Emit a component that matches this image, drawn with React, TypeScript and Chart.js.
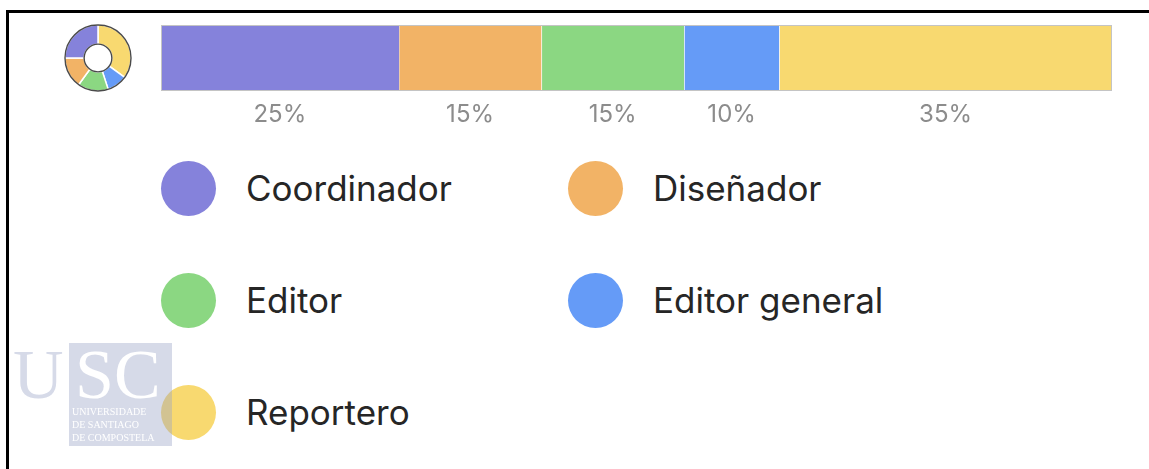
import React, { useEffect, useRef } from "react";
import { Chart, registerables } from "chart.js";

Chart.register(...registerables);

const categories = ["Coordinador", "Diseñador", "Editor", "Editor general", "Reportero"];
const shares = [25, 15, 15, 10, 35];
const shareLabels = ["25%", "15%", "15%", "10%", "35%"];
const colors = ["#8582db", "#f2b366", "#8bd782", "#659bf7", "#f8d970"];

const FONT = "Inter, 'Noto Sans', sans-serif";

const outlinePlugin = {
  id: "barOutline",
  afterDatasetsDraw(chart: any) {
    const { ctx, chartArea } = chart;
    ctx.save();
    ctx.strokeStyle = "#c4c4c4";
    ctx.lineWidth = 1;
    ctx.strokeRect(
      chartArea.left + 0.5,
      chartArea.top + 0.5,
      chartArea.right - chartArea.left - 1,
      chartArea.bottom - chartArea.top - 1
    );
    ctx.restore();
  },
};

const shareLabelPlugin = {
  id: "shareLabels",
  afterDraw(chart: any) {
    const { ctx, chartArea } = chart;
    const x = chart.scales.x;
    ctx.save();
    ctx.font = `24px ${FONT}`;
    ctx.fillStyle = "#8c8c8c";
    ctx.textAlign = "center";
    ctx.textBaseline = "middle";
    let start = 0;
    shares.forEach((v, i) => {
      const mid = start + v / 2;
      ctx.fillText(shareLabels[i], x.getPixelForValue(mid), chartArea.bottom + 24);
      start += v;
    });
    ctx.restore();
  },
};

const ringPlugin = {
  id: "ringOutline",
  afterDatasetsDraw(chart: any) {
    const meta = chart.getDatasetMeta(0);
    const arc = meta.data[0];
    if (!arc) return;
    const { x, y, outerRadius, innerRadius } = arc.getProps(["x", "y", "outerRadius", "innerRadius"], true);
    const { ctx } = chart;
    ctx.save();
    ctx.strokeStyle = "#4a4a4a";
    ctx.lineWidth = 1.4;
    ctx.beginPath();
    ctx.arc(x, y, outerRadius, 0, Math.PI * 2);
    ctx.stroke();
    ctx.beginPath();
    ctx.arc(x, y, innerRadius, 0, Math.PI * 2);
    ctx.stroke();
    ctx.restore();
  },
};

export default function App() {
  const barRef = useRef<HTMLCanvasElement>(null);
  const donutRef = useRef<HTMLCanvasElement>(null);

  useEffect(() => {
    const bar = new Chart(barRef.current as HTMLCanvasElement, {
      type: "bar",
      data: {
        labels: ["Roles"],
        datasets: categories.map((c, i) => ({
          label: c,
          data: [shares[i]],
          backgroundColor: colors[i],
          borderColor: "rgba(255,255,255,0.85)",
          borderWidth: { left: i > 0 ? 1 : 0, right: 0, top: 0, bottom: 0 },
          borderSkipped: false,
          barPercentage: 1,
          categoryPercentage: 1,
        })),
      },
      options: {
        indexAxis: "y",
        animation: false,
        responsive: false,
        layout: { padding: { top: 0, left: 0, right: 0, bottom: 40 } },
        scales: {
          x: { stacked: true, min: 0, max: 100, display: false },
          y: { stacked: true, display: false },
        },
        plugins: { legend: { display: false }, tooltip: { enabled: false } },
      } as any,
      plugins: [outlinePlugin, shareLabelPlugin],
    });

    const donut = new Chart(donutRef.current as HTMLCanvasElement, {
      type: "doughnut",
      data: {
        labels: [...categories].reverse(),
        datasets: [
          {
            data: [...shares].reverse(),
            backgroundColor: [...colors].reverse(),
            borderColor: "#ffffff",
            borderWidth: 1.5,
          },
        ],
      },
      options: {
        animation: false,
        responsive: false,
        radius: 33,
        cutout: 16.5,
        layout: { padding: 0 },
        plugins: { legend: { display: false }, tooltip: { enabled: false } },
      } as any,
      plugins: [ringPlugin],
    });

    return () => {
      bar.destroy();
      donut.destroy();
    };
  }, []);

  const logoFill = "rgb(153,163,198)";

  return (
    <div
      style={{
        position: "absolute",
        left: 0,
        top: 0,
        width: 1149,
        height: 469,
        overflow: "hidden",
        background: "#ffffff",
        fontFamily: FONT,
      }}
    >
      <div
        style={{
          position: "absolute",
          left: 6,
          top: 10,
          right: -10,
          bottom: -10,
          borderLeft: "3px solid #000",
          borderTop: "3px solid #000",
        }}
      />
      <canvas
        ref={donutRef}
        width={80}
        height={80}
        style={{ position: "absolute", left: 58, top: 18, width: 80, height: 80, display: "block" }}
      />
      <canvas
        ref={barRef}
        width={951}
        height={106}
        style={{ position: "absolute", left: 161, top: 25, width: 951, height: 106, display: "block" }}
      />
      {categories.map((c, i) => {
        const col = i % 2;
        const row = Math.floor(i / 2);
        return (
          <div
            key={c}
            style={{
              position: "absolute",
              left: col ? 568 : 161,
              top: 160 + row * 112,
              height: 56,
              display: "flex",
              alignItems: "center",
              whiteSpace: "nowrap",
            }}
          >
            <div
              style={{
                width: 55,
                height: 55,
                borderRadius: "50%",
                background: colors[i],
                marginRight: 30,
                flex: "none",
              }}
            />
            <span style={{ fontSize: 35, color: "#262626", lineHeight: "42px" }}>{c}</span>
          </div>
        );
      })}
      <svg
        width={1149}
        height={469}
        style={{ position: "absolute", left: 0, top: 0, pointerEvents: "none" }}
      >
        <rect x={69} y={343} width={103} height={103} fill={logoFill} fillOpacity={0.4} />
        <text
          x={13}
          y={398}
          fontFamily="'Liberation Serif', 'DejaVu Serif', serif"
          fontSize={70}
          fill={logoFill}
          fillOpacity={0.4}
        >
          U
        </text>
        <text x={75} y={398} fontFamily="'Liberation Serif', 'DejaVu Serif', serif" fontSize={70} fill="#ffffff">
          SC
        </text>
        <g fontFamily="'Liberation Serif', 'DejaVu Serif', serif" fontSize={10} fill="#ffffff">
          <text x={72} y={415}>UNIVERSIDADE</text>
          <text x={72} y={428}>DE SANTIAGO</text>
          <text x={72} y={441}>DE COMPOSTELA</text>
        </g>
      </svg>
    </div>
  );
}
